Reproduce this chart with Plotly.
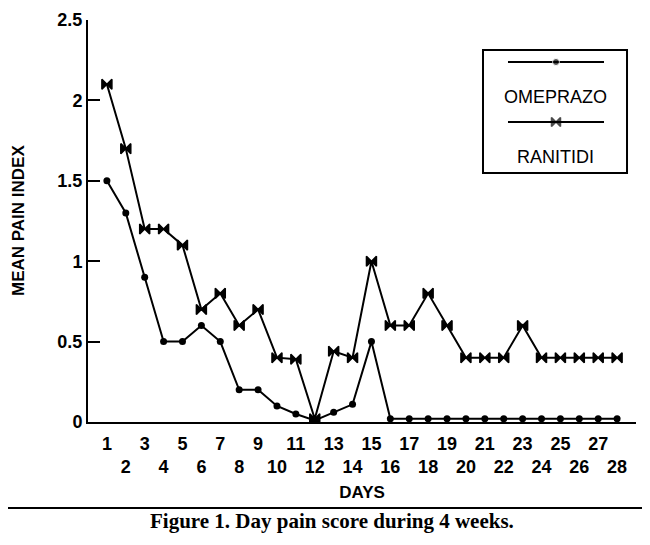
import plotly.graph_objects as go

# données (jours 1 à 28)
jours = list(range(1, 29))
omeprazole = [1.5, 1.3, 0.9, 0.5, 0.5, 0.6, 0.5, 0.2, 0.2, 0.1, 0.05, 0.01, 0.06, 0.11,
              0.5, 0.02, 0.02, 0.02, 0.02, 0.02, 0.02, 0.02, 0.02, 0.02, 0.02, 0.02, 0.02, 0.02]
ranitidine = [2.1, 1.7, 1.2, 1.2, 1.1, 0.7, 0.8, 0.6, 0.7, 0.4, 0.39, 0.02, 0.44, 0.4,
              1.0, 0.6, 0.6, 0.8, 0.6, 0.4, 0.4, 0.4, 0.6, 0.4, 0.4, 0.4, 0.4, 0.4]
y_ticks = [0, 0.5, 1, 1.5, 2, 2.5]
y_labels = ["0", "0.5", "1", "1.5", "2", "2.5"]
# jours impairs sur la 1re ligne, pairs sur la 2e
x_labels = [str(j) if j % 2 else "<br>" + str(j) for j in jours]

police = "Liberation Sans"

fig = go.Figure()

fig.add_trace(go.Scatter(
    x=jours, y=omeprazole, mode="lines+markers", name="OMEPRAZO",
    line=dict(color="black", width=2),
    marker=dict(symbol="circle", size=7, color="black")
))
fig.add_trace(go.Scatter(
    x=jours, y=ranitidine, mode="lines+markers", name="RANITIDI",
    line=dict(color="black", width=2),
    marker=dict(symbol="bowtie", size=10, color="black", line=dict(color="black", width=1.5))
))

# échantillons de la légende (axe superposé 0-1)
fig.add_trace(go.Scatter(
    x=[0.7664, 0.854, 0.9416], y=[0.8955] * 3, xaxis="x2", yaxis="y2",
    mode="lines+markers", line=dict(color="black", width=2),
    marker=dict(symbol="circle", size=[0, 7, 0], color="black"),
    showlegend=False, hoverinfo="skip"
))
fig.add_trace(go.Scatter(
    x=[0.7664, 0.854, 0.9416], y=[0.7463] * 3, xaxis="x2", yaxis="y2",
    mode="lines+markers", line=dict(color="black", width=2),
    marker=dict(symbol="bowtie", size=[0, 9, 0], color="black", line=dict(color="black", width=1.5)),
    showlegend=False, hoverinfo="skip"
))

# la page ajoute 8 px de marge : zone de tracé réelle 88-636 x 20-422
fig.update_layout(
    width=650, height=545,
    margin=dict(l=80, r=22, t=12, b=131),
    paper_bgcolor="white", plot_bgcolor="white",
    showlegend=False,
    font=dict(family=police, color="black"),
    xaxis=dict(
        range=[0, 29], tickvals=jours, ticktext=x_labels, tickangle=0, automargin=False,
        showgrid=False, zeroline=False, showline=True, linecolor="black", linewidth=2,
        ticks="", tickfont=dict(size=18, weight="bold"), ticklabelstandoff=4,
        title=dict(text="DAYS", font=dict(size=17, weight="bold"), standoff=10)
    ),
    yaxis=dict(
        range=[0, 2.5], tickvals=y_ticks, ticktext=y_labels, automargin=False,
        showgrid=False, zeroline=False, showline=True, linecolor="black", linewidth=2,
        ticks="inside", ticklen=12, tickwidth=2, tickcolor="black",
        tickfont=dict(size=18, weight="bold"), ticklabeloverflow="allow"
    ),
    xaxis2=dict(range=[0, 1], domain=[0, 1], overlaying="x", visible=False),
    yaxis2=dict(range=[0, 1], domain=[0, 1], overlaying="y", visible=False),
)

# titre de l'axe Y
fig.add_annotation(x=-0.1277, y=0.5, xref="paper", yref="paper", text="MEAN PAIN INDEX",
                   xanchor="center", yanchor="middle",
                   textangle=-90, showarrow=False, font=dict(size=17, family=police, weight="bold"))

# cadre de la légende
fig.add_shape(type="rect", xref="paper", yref="paper", x0=0.7208, x1=0.9836, y0=0.6194, y1=0.9254,
              line=dict(color="black", width=2))
fig.add_annotation(x=0.854, y=0.8085, xref="paper", yref="paper", text="OMEPRAZO",
                   xanchor="center", yanchor="middle",
                   showarrow=False, font=dict(size=18, family=police))
fig.add_annotation(x=0.854, y=0.6592, xref="paper", yref="paper", text="RANITIDI",
                   xanchor="center", yanchor="middle",
                   showarrow=False, font=dict(size=18, family=police))

# trait et légende de la figure
fig.add_shape(type="line", xref="paper", yref="paper", x0=-0.1606, x1=1.0255, y0=-0.2139, y1=-0.2139,
              line=dict(color="black", width=2))
fig.add_annotation(x=0.445, y=-0.2463, xref="paper", yref="paper", xanchor="center", yanchor="middle",
                   text="<b>Figure 1. Day pain score during 4 weeks.</b>",
                   showarrow=False, font=dict(size=21, family="Liberation Serif"))

fig.write_html("out.html")
